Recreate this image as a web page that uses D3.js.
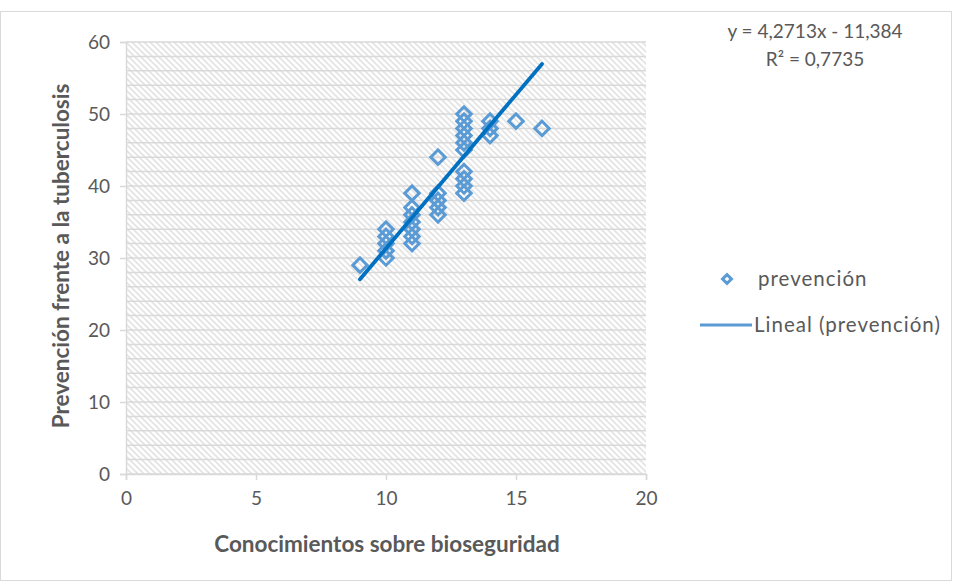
<!DOCTYPE html>
<html>
<head>
<meta charset="utf-8">
<script src="https://cdn.jsdelivr.net/npm/d3@7"></script>
<style>
  body { margin: 0; background: #fff; }
  text { font-family: Lato, "Open Sans", sans-serif; }
</style>
</head>
<body>
<div id="chart"></div>
<script>
// puntos (conocimientos, prevención)
const conocimientos = [9, 10, 10, 10, 10, 10, 11, 11, 11, 11, 11, 11, 11,
  12, 12, 12, 12, 12, 13, 13, 13, 13, 13, 13, 13, 13, 13, 13, 14, 14, 14, 15, 16];
const prevencion = [29, 34, 33, 32, 31, 30, 39, 37, 36, 35, 34, 33, 32,
  44, 39, 38, 37, 36, 50, 49, 48, 47, 46, 45, 42, 41, 40, 39, 49, 48, 47, 49, 48];

// línea de tendencia de Excel
const pendiente = 4.2713;
const intercepto = -11.384;
const xTicks = [0, 5, 10, 15, 20];
const yTicks = [0, 10, 20, 30, 40, 50, 60];
const yMinor = d3.range(0, 61, 2);

const W = 955, H = 583;
const margin = { top: 42, left: 126, right: 309, bottom: 109 };
const width = W - margin.left - margin.right;
const height = H - margin.top - margin.bottom;

const svg = d3.select("#chart").append("svg")
    .attr("width", W)
    .attr("height", H);

// borde del gráfico
svg.append("rect")
    .attr("x", 0.5).attr("y", 11.5)
    .attr("width", W - 4).attr("height", H - 14)
    .attr("fill", "none")
    .attr("stroke", "#d9d9d9");

const defs = svg.append("defs");
const pat = defs.append("pattern")
    .attr("id", "hatch")
    .attr("patternUnits", "userSpaceOnUse")
    .attr("width", 6).attr("height", 6);
pat.append("rect").attr("width", 6).attr("height", 6).attr("fill", "#fff");
pat.append("path")
    .attr("d", "M-1,-1 L7,7 M-4,2 L2,8 M4,-2 L8,2")
    .attr("stroke", "#e3e3e3")
    .attr("stroke-width", 1.6);

const g = svg.append("g")
    .attr("transform", "translate(" + margin.left + "," + margin.top + ")");

const x = d3.scaleLinear().domain([0, 20]).range([0, width]);
const y = d3.scaleLinear().domain([0, 60]).range([height, 0]);

g.append("rect")
    .attr("width", width).attr("height", height)
    .attr("fill", "url(#hatch)");

// líneas de cuadrícula
g.selectAll(".grid")
    .data(yMinor)
    .enter().append("line")
    .attr("class", "grid")
    .attr("x1", 0).attr("x2", width)
    .attr("y1", d => y(d)).attr("y2", d => y(d))
    .attr("stroke", "#d9d9d9")
    .attr("stroke-width", 1.5);

const yAxis = g.append("g")
    .call(d3.axisLeft(y).tickValues(yTicks).tickSize(6).tickPadding(10));
const xAxis = g.append("g")
    .attr("transform", "translate(0," + height + ")")
    .call(d3.axisBottom(x).tickValues(xTicks).tickSize(6).tickPadding(12));

[xAxis, yAxis].forEach(a => {
    a.select(".domain").attr("stroke", "#d9d9d9").attr("stroke-width", 1.5);
    a.selectAll(".tick line").attr("stroke", "#d9d9d9").attr("stroke-width", 1.5);
    a.selectAll(".tick text")
        .attr("fill", "#595959")
        .style("font-size", "19px")
        .style("font-family", "Lato, sans-serif");
});
yAxis.selectAll(".tick text").attr("dy", "0.35em");

// puntos
const diamond = d3.symbol().type(d3.symbolSquare).size(105);
g.selectAll(".pt")
    .data(conocimientos.map((c, i) => [c, prevencion[i]]))
    .enter().append("path")
    .attr("class", "pt")
    .attr("d", diamond)
    .attr("transform", d => "translate(" + x(d[0]) + "," + y(d[1]) + ") rotate(45)")
    .attr("fill", "none")
    .attr("stroke", "#5b9bd5")
    .attr("stroke-width", 3);

// tendencia
const xExt = d3.extent(conocimientos);
g.append("line")
    .attr("x1", x(xExt[0])).attr("y1", y(pendiente * xExt[0] + intercepto))
    .attr("x2", x(xExt[1])).attr("y2", y(pendiente * xExt[1] + intercepto))
    .attr("stroke", "#0070c0")
    .attr("stroke-width", 3.8)
    .attr("stroke-linecap", "round");

// títulos
svg.append("text")
    .attr("x", 387).attr("y", 552)
    .attr("text-anchor", "middle")
    .attr("fill", "#595959")
    .style("font-size", "22.5px").style("font-weight", "bold")
    .text("Conocimientos sobre bioseguridad");

svg.append("text")
    .attr("transform", "translate(69,256) rotate(-90)")
    .attr("text-anchor", "middle")
    .attr("fill", "#595959")
    .style("font-size", "22.5px").style("font-weight", "bold")
    .text("Prevención frente a la tuberculosis");

// ecuación
const eq = svg.append("text")
    .attr("x", 815).attr("y", 38)
    .attr("text-anchor", "middle")
    .attr("fill", "#595959")
    .style("font-size", "19px");
eq.append("tspan").text("y = " + String(pendiente).replace(".", ",") + "x - " +
    String(-intercepto).replace(".", ","));
eq.append("tspan").attr("x", 815).attr("dy", 28).text("R² = 0,7735");

// leyenda
const lg = svg.append("g").attr("transform", "translate(700,279)");
lg.append("path")
    .attr("d", d3.symbol().type(d3.symbolSquare).size(40))
    .attr("transform", "translate(27,0) rotate(45)")
    .attr("fill", "#fff")
    .attr("stroke", "#5b9bd5")
    .attr("stroke-width", 3);
lg.append("text")
    .attr("x", 58).attr("y", 0).attr("dy", "0.35em")
    .attr("fill", "#595959").style("font-size", "20.5px")
    .style("letter-spacing", "1px")
    .text("prevención");
lg.append("line")
    .attr("x1", 0).attr("x2", 52).attr("y1", 46).attr("y2", 46)
    .attr("stroke", "#5b9bd5").attr("stroke-width", 3);
lg.append("text")
    .attr("x", 54).attr("y", 46).attr("dy", "0.35em")
    .attr("fill", "#595959").style("font-size", "20.5px")
    .style("letter-spacing", "1px")
    .text("Lineal (prevención)");
</script>
</body>
</html>
